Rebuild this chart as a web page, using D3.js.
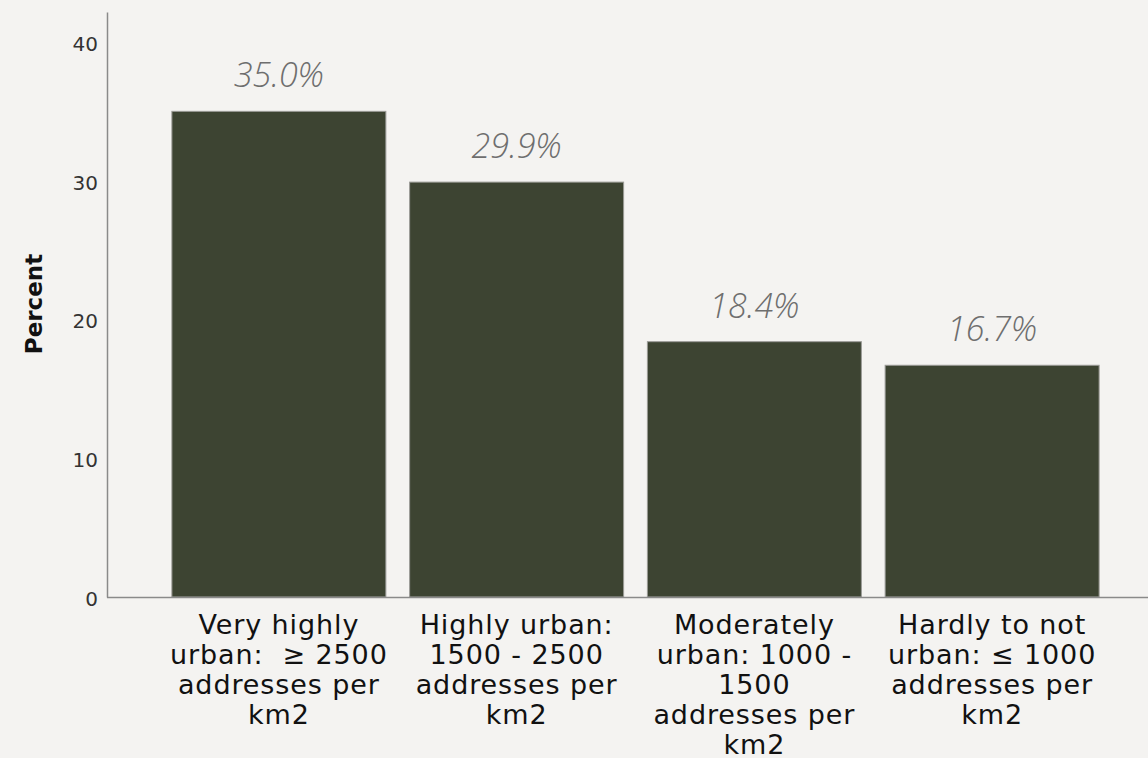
<!DOCTYPE html>
<html>
<head>
<meta charset="utf-8">
<script src="https://cdn.jsdelivr.net/npm/d3@7"></script>
<style>
  html, body { margin: 0; padding: 0; background: #f4f3f1; }
  svg { display: block; }
  text.cat { white-space: pre; }
</style>
</head>
<body>
<script>
const categories = [
  ["Very highly", "urban:  \u2265 2500", "addresses per", "km2"],
  ["Highly urban:", "1500 - 2500", "addresses per", "km2"],
  ["Moderately", "urban: 1000 -", "1500", "addresses per", "km2"],
  ["Hardly to not", "urban: \u2264 1000", "addresses per", "km2"]
];
const values = [35.0, 29.9, 18.4, 16.7];
const valueLabels = ["35.0%", "29.9%", "18.4%", "16.7%"];
const yTicks = [0, 10, 20, 30, 40];
const yLabel = "Percent";

const W = 1148, H = 758;
const svg = d3.select("body").append("svg").attr("width", W).attr("height", H);

const y = d3.scaleLinear().domain([0, 42.16]).range([597, 12]);
const x = d3.scaleBand().domain(d3.range(values.length)).range([160, 1111])
  .paddingInner(0.1).paddingOuter(0.05);

// bars
svg.selectAll("rect.bar").data(values).join("rect")
  .attr("class", "bar")
  .attr("x", (d, i) => x(i))
  .attr("width", x.bandwidth())
  .attr("y", d => y(d))
  .attr("height", d => y(0) - y(d))
  .attr("fill", "#3d4432")
  .attr("stroke", "#9a9a96")
  .attr("stroke-width", 1);

// value labels
svg.selectAll("text.val").data(values).join("text")
  .attr("class", "val")
  .attr("x", (d, i) => x(i) + x.bandwidth() / 2)
  .attr("y", d => y(d) - 24)
  .attr("text-anchor", "middle")
  .attr("font-family", "'Open Sans', sans-serif")
  .attr("font-style", "italic")
  .attr("font-weight", 300)
  .attr("font-size", 34)
  .attr("fill", "#6e6e6e")
  .text((d, i) => valueLabels[i]);

// y axis
const yAxis = d3.axisLeft(y).tickValues(yTicks).tickSize(0).tickPadding(9);
const gy = svg.append("g").attr("transform", "translate(107,0)").call(yAxis);
gy.select(".domain").attr("stroke", "#8a8a8a").attr("stroke-width", 1.5);
gy.selectAll("text")
  .attr("font-family", "'DejaVu Sans', sans-serif")
  .attr("font-size", 20)
  .attr("fill", "#333")
  .attr("dy", "0.42em");

// x axis line
const xAxis = d3.axisBottom(x).tickSize(0).tickFormat("");
const gx = svg.append("g").attr("transform", `translate(0,${y(0)})`).call(xAxis);
gx.select(".domain").attr("d", `M107,0.5H${W}`).attr("stroke", "#8a8a8a").attr("stroke-width", 1.5);

// category labels
const lab = svg.selectAll("text.cat").data(categories).join("text")
  .attr("class", "cat")
  .attr("text-anchor", "middle")
  .attr("font-family", "'DejaVu Sans', sans-serif")
  .attr("font-size", 27)
  .attr("letter-spacing", "0.9px")
  .attr("fill", "#111");
lab.selectAll("tspan").data((d, i) => d.map(t => ({t, i}))).join("tspan")
  .attr("x", d => x(d.i) + x.bandwidth() / 2)
  .attr("y", (d, j) => 634 + j * 30)
  .text(d => d.t);

// y label
svg.append("text")
  .attr("transform", "translate(42,304) rotate(-90)")
  .attr("text-anchor", "middle")
  .attr("font-family", "'DejaVu Sans', sans-serif")
  .attr("font-weight", "bold")
  .attr("font-size", 23)
  .attr("fill", "#111")
  .text(yLabel);
</script>
</body>
</html>
